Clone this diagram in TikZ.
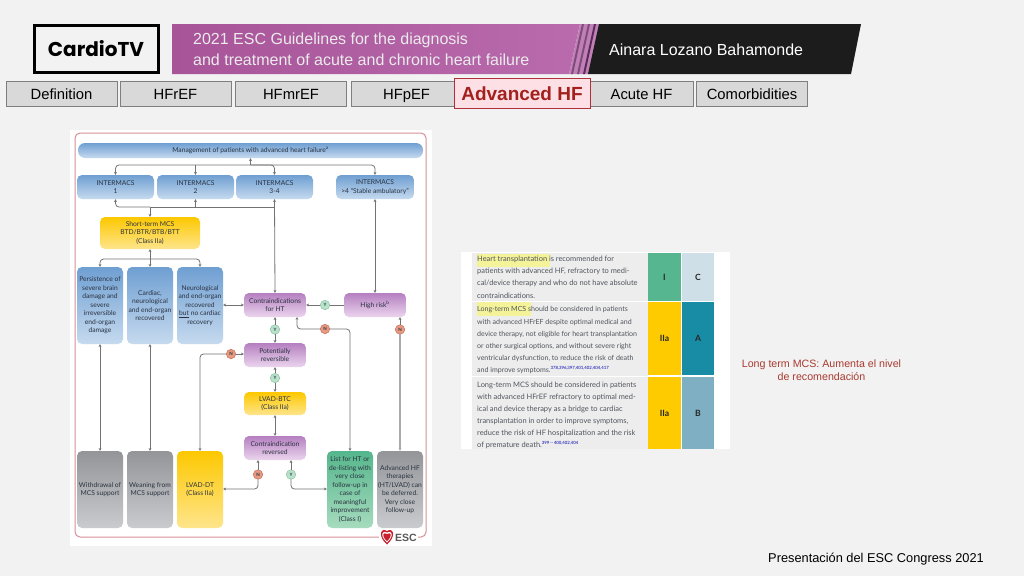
\documentclass[tikz,border=0pt]{standalone}
\usepackage{fontspec}
\setmainfont{Liberation Sans}
\newfontfamily\figfont{Lato}
\newfontfamily\logofont{Poppins}
\usetikzlibrary{arrows.meta, positioning}

\definecolor{slide}{HTML}{F2F2F2}
\definecolor{tabfill}{HTML}{D9D9D9}
\definecolor{tabline}{HTML}{7F7F7F}
\definecolor{linkgrey}{HTML}{737373}
\definecolor{figtext}{HTML}{2A3240}
\definecolor{rowtext}{HTML}{50555C}
\definecolor{bandleft}{HTML}{A85499}
\definecolor{bandright}{HTML}{B96BAD}
\definecolor{bandlight}{HTML}{C080B5}
\definecolor{bandmid}{HTML}{7F4A7C}
\definecolor{banddark}{HTML}{5B2A5C}
\definecolor{tabred}{HTML}{B0303A}
\definecolor{tabpink}{HTML}{FDE0E5}
\definecolor{tabtext}{HTML}{A3201C}
\definecolor{panelrim}{HTML}{D58F95}
\definecolor{bluetop}{HTML}{6F9FD2}
\definecolor{bluelow}{HTML}{C6DAEF}
\definecolor{goldtop}{HTML}{FDC800}
\definecolor{goldlow}{HTML}{FEE58C}
\definecolor{violettop}{HTML}{B57FC0}
\definecolor{violetlow}{HTML}{EBD5EE}
\definecolor{greytop}{HTML}{939598}
\definecolor{greylow}{HTML}{C9CBCE}
\definecolor{greentop}{HTML}{55B68C}
\definecolor{greenlow}{HTML}{A6DBBE}
\definecolor{greendot}{HTML}{B8E2CA}
\definecolor{greenrim}{HTML}{7DBB98}
\definecolor{reddot}{HTML}{E59A82}
\definecolor{redrim}{HTML}{C8604A}
\definecolor{hilite}{HTML}{F4F39A}
\definecolor{escred}{HTML}{C8202E}
\definecolor{classI}{HTML}{56B68F}
\definecolor{classII}{HTML}{FECB00}
\definecolor{levelA}{HTML}{178CA4}
\definecolor{levelB}{HTML}{7FAFC2}
\definecolor{levelC}{HTML}{CFDFE8}
\definecolor{notered}{HTML}{A83A30}
\newcommand{\fsize}[2]{\fontsize{#1}{#2}\selectfont}

\tikzset{
  tabbox/.style={draw=tabline, line width=1pt, fill=tabfill, minimum height=25pt, inner sep=0pt, text height=14pt, text depth=3pt, font=\fsize{14.8}{16}},
  figbox/.style={rounded corners=5pt, inner sep=0pt, align=center, text=figtext, font=\figfont\fsize{6.7}{8.5}},
  blueBox/.style={figbox, top color=bluetop, bottom color=bluelow},
  goldBox/.style={figbox, top color=goldtop, bottom color=goldlow},
  violetBox/.style={figbox, top color=violettop, bottom color=violetlow},
  greyBox/.style={figbox, top color=greytop, bottom color=greylow},
  greenBox/.style={figbox, top color=greentop, bottom color=greenlow},
  yesDot/.style={circle, draw=greenrim, fill=greendot, minimum size=9.5pt, inner sep=0pt, text=figtext, font=\figfont\bfseries\fsize{4.5}{5}},
  noDot/.style={circle, draw=redrim, fill=reddot, minimum size=9.5pt, inner sep=0pt, text=figtext, font=\figfont\bfseries\fsize{4.5}{5}},
  link/.style={draw=linkgrey, line width=.8pt, rounded corners=3.5pt, >={Stealth[length=2.8pt,width=2.8pt]}},
  cell/.style={inner sep=0pt, font=\figfont\bfseries\fsize{8.6}{9}, text=black!85},
  rowtxt/.style={anchor=north west, inner sep=0pt, align=left, text=rowtext, font=\figfont\fsize{7.45}{12.15}}
}

\begin{document}
\begin{tikzpicture}[x=1pt, y=-1pt]

  \useasboundingbox (0,0) rectangle (1024,576);
  \fill[slide] (0,0) rectangle (1024,576);

  % header
  \node[draw=black, line width=3pt, fill=slide, minimum width=124pt, minimum height=47pt, inner sep=0pt,
    font=\logofont\bfseries\fsize{20}{21}] (logo) at (96,49) {CardioTV};
  \path[left color=bandleft, right color=bandright] (172,24) -- (580,24) -- (569,74) -- (172,74) -- cycle;
  \fill[bandlight] (580,24) -- (600,24) -- (589,74) -- (569,74) -- cycle;
  \foreach \x/\c in {582/bandmid, 588/bandmid, 594/banddark}
    \fill[\c] (\x,24) -- (\x+2,24) -- (\x-9,74) -- (\x-11,74) -- cycle;
  \fill[black!89] (599,24) -- (861,24) -- (851,74) -- (588,74) -- cycle;
  \node[anchor=west, align=left, inner sep=0pt, text=white!92!black, font=\fsize{16}{21}] (title) at (193,49.5)
    {2021 ESC Guidelines for the diagnosis\\and treatment of acute and chronic heart failure};
  \node[anchor=west, inner sep=0pt, text=white, font=\fsize{16}{18}] (author) at (609,50) {Ainara Lozano Bahamonde};

  % tabs
  \node[tabbox, minimum width=111pt] (tab1) at (61.5,93.5) {Definition};
  \node[tabbox, minimum width=111pt] (tab2) at (175.5,93.5) {HFrEF};
  \node[tabbox, minimum width=111pt] (tab3) at (291,93.5) {HFmrEF};
  \node[tabbox, minimum width=111pt] (tab4) at (406.5,93.5) {HFpEF};
  \node[tabbox, minimum width=103pt] (tab6) at (641.5,93.5) {Acute HF};
  \node[tabbox, minimum width=111pt] (tab7) at (752,93.5) {Comorbidities};
  \node[draw=tabred, line width=1pt, fill=tabpink, minimum width=136pt, minimum height=30pt, inner sep=0pt,
    text=tabtext, font=\bfseries\fsize{19}{20}] (tab5) at (522,93.5) {Advanced HF};

  % algorithm panel
  \fill[white] (70,130) rectangle (432,546);
  \draw[panelrim, line width=1pt, rounded corners=5pt] (75,133) rectangle (426,537);

  \node[blueBox, rounded corners=7pt, minimum width=345pt, minimum height=15pt] (mgmt) at (250.5,150.5)
    {Management of patients with advanced heart failure\textsuperscript{a}};
  \node[blueBox, minimum width=77pt, minimum height=24pt] (im1) at (115.5,187) {INTERMACS\\1};
  \node[blueBox, minimum width=77pt, minimum height=24pt] (im2) at (195.5,187) {INTERMACS\\2};
  \node[blueBox, minimum width=77pt, minimum height=24pt] (im3) at (274.5,187) {INTERMACS\\3-4};
  \node[blueBox, minimum width=78pt, minimum height=24pt] (im4) at (375,187) {INTERMACS\\>4 “Stable ambulatory”};
  \node[goldBox, minimum width=100pt, minimum height=32pt] (mcs) at (150,233) {Short-term MCS\\BTD/BTR/BTB/BTT\\(Class IIa)};

  \node[blueBox, minimum width=46pt, minimum height=77pt] (brain) at (100,305.5)
    {Persistence of\\severe brain\\damage and\\severe\\irreversible\\end-organ\\damage};
  \node[blueBox, minimum width=46pt, minimum height=77pt] (organ) at (150,305.5)
    {Cardiac,\\neurological\\and end-organ\\recovered};
  \node[blueBox, minimum width=46pt, minimum height=77pt] (neuro) at (200,305.5)
    {Neurological\\and end-organ\\recovered\\\underline{but} no cardiac\\recovery};

  \node[violetBox, minimum width=62pt, minimum height=24pt] (contra) at (275,305) {Contraindications\\for HT};
  \node[violetBox, minimum width=62pt, minimum height=24pt] (risk) at (375,305) {High risk\textsuperscript{b}};
  \node[violetBox, minimum width=62pt, minimum height=24pt] (revers) at (275,355) {Potentially\\reversible};
  \node[goldBox, minimum width=62pt, minimum height=23pt] (btc) at (275,403.5) {LVAD-BTC\\(Class IIa)};
  \node[violetBox, minimum width=62pt, minimum height=24pt] (revd) at (275,448) {Contraindication\\reversed};

  \node[greyBox, minimum width=46pt, minimum height=77pt] (withd) at (100,489.5) {Withdrawal of\\MCS support};
  \node[greyBox, minimum width=46pt, minimum height=77pt] (wean) at (150,489.5) {Weaning from\\MCS support};
  \node[goldBox, minimum width=46pt, minimum height=77pt] (dt) at (200,489.5) {LVAD-DT\\(Class IIa)};
  \node[greenBox, minimum width=46pt, minimum height=77pt] (list) at (350,489.5)
    {List for HT or\\de-listing with\\very close\\follow-up in\\case of\\meaningful\\improvement\\(Class I)};
  \node[greyBox, minimum width=46pt, minimum height=77pt] (defer) at (400,489.5)
    {Advanced HF\\therapies\\(HT/LVAD) can\\be deferred.\\Very close\\follow-up};

  \node[yesDot] (y1) at (325,305) {Y};
  \node[yesDot] (y2) at (275,329.5) {Y};
  \node[yesDot] (y3) at (275,378) {Y};
  \node[yesDot] (y4) at (291,474.5) {Y};
  \node[noDot] (n1) at (325,329) {N};
  \node[noDot] (n2) at (400,329.5) {N};
  \node[noDot] (n3) at (231,354) {N};
  \node[noDot] (n4) at (258,474.5) {N};

  \coordinate (top) at (250.5,165);
  \coordinate (mid) at (150,207);
  \coordinate (fork) at (150,259);
  \coordinate (low) at (0,489);
  \coordinate (foot) at (297,317);

  \draw[link, ->] (top) -- (mgmt.south);
  \draw[link, ->] (top) -| (im1.north);
  \draw[link, ->] (top -| im2.north) -- (im2.north);
  \draw[link, ->] (top) -| (im3.north);
  \draw[link, ->] (top) -| (im4.north);

  \draw[link, ->] (mid) -| (im1.south);
  \draw[link, ->] (mid -| im2.south) -- (im2.south);
  \draw[link] (mid) -- (mid -| im3.south);
  \draw[link, ->] (mid) -- (mcs.north);

  \draw[link, <->] (im3.south) -- (contra.north);
  \draw[link, <->] (im4.south) -- (risk.north);

  \draw[link, <->] (mcs.south) -- (organ.north);
  \draw[link, ->] (fork) -| (brain.north);
  \draw[link, ->] (fork) -| (neuro.north);

  \draw[link, <->] (neuro.east |- contra) -- (contra.west);
  \draw[link, ->] (y1) -- (contra.east);
  \draw[link] (y1) -- (risk.west);
  \draw[link, ->] (y2) -- (contra.south);
  \draw[link, ->] (y2) -- (revers.north);
  \draw[link, ->] (n1) -| (foot);
  \draw[link, ->] (n1) -| (list.north);
  \draw[link, ->] (n2) -- (risk.south -| n2);
  \draw[link, ->, line width=1.2pt, draw=linkgrey!60] (n2) -- (defer.north);
  \draw[link, ->] (n3) -- (revers.west |- n3);
  \draw[link, ->] (n3) -| (dt.north);
  \draw[link, ->] (y3) -- (revers.south);
  \draw[link, ->] (y3) -- (btc.north);
  \draw[link, <->] (btc.south) -- (revd.north);
  \draw[link, ->] (n4) -- (n4 |- revd.south);
  \draw[link, ->] (n4) |- (dt.east |- low);
  \draw[link, ->] (y4) -- (y4 |- revd.south);
  \draw[link, ->] (y4) |- (list.west |- low);
  \draw[link, <->] (brain.south) -- (withd.north);
  \draw[link, <->] (organ.south) -- (wean.north);

  % esc mark
  \fill[white] (379,532) rectangle (418,542);
  \fill[escred] (387,544.5) .. controls (377,536) and (381,527) .. (387,531) .. controls (393,527) and (397,536) .. (387,544.5);
  \fill[white] (387,542.5) .. controls (379.5,536) and (382,529.5) .. (387,532.5) .. controls (392,529.5) and (394.5,536) .. (387,542.5);
  \fill[escred] (387,541) .. controls (381,536) and (383,531.5) .. (387,534) .. controls (391,531.5) and (393,536) .. (387,541);
  \node[anchor=west, inner sep=0pt, text=black!65, font=\bfseries\fsize{10.5}{11}] (esctxt) at (395,537.5) {ESC};

  % table
  \fill[white] (461,252) rectangle (730,449);
  \fill[black!7] (472,252.5) rectangle (647.5,301);
  \fill[black!7] (472,302) rectangle (647.5,375.5);
  \fill[black!7] (472,377) rectangle (647.5,449);
  \fill[hilite] (477,254) rectangle (550,267);
  \fill[hilite] (477,302) rectangle (531,316);
  \node[rowtxt] (row1) at (477,256)
    {Heart transplantation is recommended for\\patients with advanced HF, refractory to medi-\\cal/device therapy and who do not have absolute\\contraindications.};
  \node[rowtxt, font=\figfont\fsize{7.05}{12.15}] (row2) at (477,306.5)
    {Long-term MCS should be considered in patients\\with advanced HFrEF despite optimal medical and\\device therapy, not eligible for heart transplantation\\or other surgical options, and without severe right\\ventricular dysfunction, to reduce the risk of death\\and improve symptoms.\textsuperscript{\textcolor{blue!70!black}{\fsize{4.3}{5}378,396,397,401,402,404,417}}};
  \node[rowtxt] (row3) at (477,381.5)
    {Long-term MCS should be considered in patients\\with advanced HFrEF refractory to optimal med-\\ical and device therapy as a bridge to cardiac\\transplantation in order to improve symptoms,\\reduce the risk of HF hospitalization and the risk\\of premature death.\textsuperscript{\textcolor{blue!70!black}{\fsize{4.3}{5}399\,--\,400,402,404}}};
  \foreach \name/\y/\h/\txt/\c in {c1/277/48.5/I/classI, c2/338.7/73.5/IIa/classII, c3/413/72/IIa/classII}
    \node[cell, fill=\c, minimum width=33pt, minimum height=\h pt] (\name) at (664.5,\y) {\txt};
  \foreach \name/\y/\h/\txt/\c in {l1/277/48.5/C/levelC, l2/338.7/73.5/A/levelA, l3/413/72/B/levelB}
    \node[cell, fill=\c, minimum width=32pt, minimum height=\h pt] (\name) at (698,\y) {\txt};

  % notes
  \node[align=center, inner sep=0pt, text=notered, font=\fsize{10.65}{13}] (note) at (821.5,370)
    {Long term MCS: Aumenta el nivel\\de recomendación};
  \node[anchor=west, inner sep=0pt, font=\fsize{12.8}{14}] (pres) at (768,559) {Presentación del ESC Congress 2021};

\end{tikzpicture}
\end{document}
